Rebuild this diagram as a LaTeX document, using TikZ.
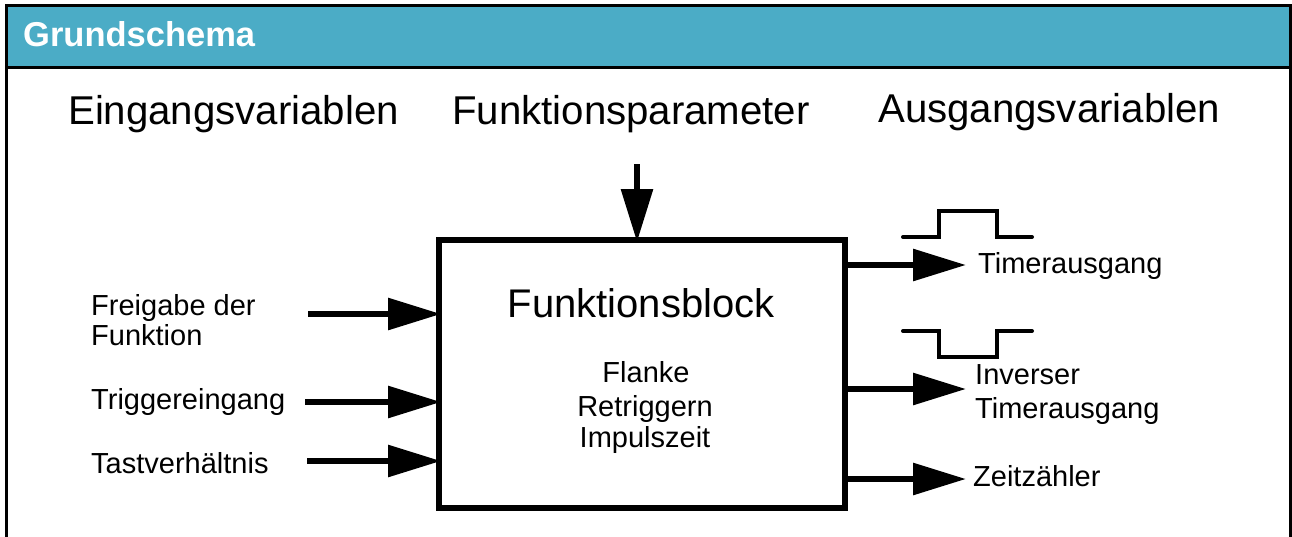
\documentclass[tikz,border=0pt]{standalone}
\usepackage{fontspec}
\setmainfont{Liberation Sans}
\usetikzlibrary{arrows.meta}
\definecolor{headblue}{RGB}{75,172,198}
\tikzset{
  lbl/.style={anchor=base west, inner sep=0pt, font=\fontsize{29}{32}\selectfont},
  ctr/.style={anchor=base, inner sep=0pt, font=\fontsize{29}{32}\selectfont},
  heading/.style={anchor=base west, inner sep=0pt, font=\fontsize{40.2}{44}\selectfont},
  arr/.style={line width=6pt, -{Triangle[length=53pt,width=31pt]}},
  wave/.style={line width=4pt, line join=miter, line cap=round},
}
\begin{document}
\begin{tikzpicture}[x=1pt,y=-1pt]
\useasboundingbox (0,0) rectangle (1292,536);
\clip (0,0) rectangle (1292,536);
% frame and header
\fill[headblue] (6,5) rectangle (1290,68);
\draw[line width=3pt] (6,545) -- (6,5.5) -- (1290.5,5.5) -- (1290.5,545);
\draw[line width=3pt] (6,67.5) -- (1290.5,67.5);
\node[anchor=base west, inner sep=0pt, text=white, font=\bfseries\fontsize{34.5}{40}\selectfont] (title) at (23,46) {Grundschema};
% headings
\node[heading] (hin) at (68,124) {Eingangsvariablen};
\node[heading] (hpar) at (452,124) {Funktionsparameter};
\node[heading] (hout) at (878,122) {Ausgangsvariablen};
% block
\node[draw, line width=6pt, minimum width=406pt, minimum height=268pt, inner sep=0pt] (box) at (642,374) {};
\node[anchor=base, inner sep=0pt, font=\fontsize{40}{44}\selectfont] (fb) at (641,317) {Funktionsblock};
\node[ctr] (p1) at (646,382) {Flanke};
\node[ctr] (p2) at (645,416) {Retriggern};
\node[ctr] (p3) at (645,447) {Impulszeit};
% top arrow
\coordinate (ptop) at (637,164);
\draw[arr] (ptop) -- ([yshift=-5pt]ptop |- box.north);
% inputs
\node[lbl] (i1a) at (91,315) {Freigabe der};
\node[lbl] (i1b) at (91,345) {Funktion};
\node[lbl] (i2) at (91,409) {Triggereingang};
\node[lbl] (i3) at (91,473) {Tastverhältnis};
\coordinate (a1) at (308,314);
\coordinate (a2) at (305,402);
\coordinate (a3) at (307,461);
\draw[arr] (a1) -- ([xshift=5pt]a1 -| box.west);
\draw[arr] (a2) -- ([xshift=5pt]a2 -| box.west);
\draw[arr] (a3) -- ([xshift=5pt]a3 -| box.west);
% outputs
\coordinate (o1) at (966,265);
\coordinate (o2) at (966,389);
\coordinate (o3) at (966,479);
\draw[arr] (o1 -| box.east) -- (o1);
\draw[arr] (o2 -| box.east) -- (o2);
\draw[arr] (o3 -| box.east) -- (o3);
\node[lbl] (t1) at (978,273) {Timerausgang};
\node[lbl] (t2a) at (975,384) {Inverser};
\node[lbl] (t2b) at (975,418) {Timerausgang};
\node[lbl] (t3) at (973,486) {Zeitzähler};
% waveforms
\draw[wave] (903,237) -- (939,237) -- (939,211) -- (997,211) -- (997,237) -- (1032,237);
\draw[wave] (903,331) -- (939,331) -- (939,357) -- (997,357) -- (997,331) -- (1032,331);
\end{tikzpicture}
\end{document}
